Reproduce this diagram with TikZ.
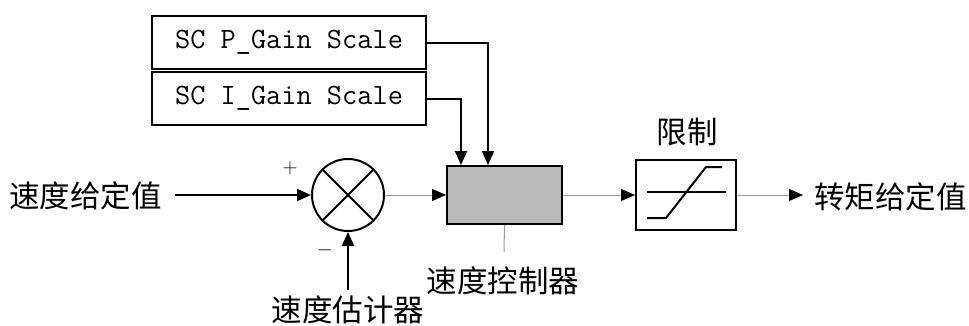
\documentclass[tikz,border=0pt]{standalone}
\usepackage{fontspec}
\newfontfamily\cjk{Noto Sans CJK SC}
\usetikzlibrary{arrows.meta}
\tikzset{
    blk/.style={draw, line width=2pt, inner sep=0pt},
    sig/.style={line width=2pt, -{Triangle[length=14pt,width=12pt]}},
    thin sig/.style={line width=1pt, draw=black!40, -{Triangle[length=14pt,width=12pt,color=black,fill=black]}},
    lbl/.style={font=\cjk\fontsize{30.5}{32}\selectfont, inner sep=0pt},
}
\begin{document}
\begin{tikzpicture}[x=1pt, y=1pt]
                \useasboundingbox (0,0) rectangle (969,325);
                \node[blk, minimum width=274pt, minimum height=53pt, font=\ttfamily\fontsize{29.5}{31}\selectfont] (pgain) at (289,282.5) {SC P\_Gain Scale};
                \node[blk, minimum width=274pt, minimum height=53pt, font=\ttfamily\fontsize{29.5}{31}\selectfont] (igain) at (289,226.5) {SC I\_Gain Scale};
                \node[blk, circle, minimum size=72pt] (sum) at (348,130) {};
                \node[blk, fill=black!27, minimum width=115pt, minimum height=58pt] (ctrl) at (504.5,130) {};
                \node[blk, minimum width=100pt, minimum height=70pt] (lim) at (686,130) {};
                \node[lbl, anchor=east] (ref) at (162,129) {速度给定值};
                \node[lbl] (est) at (348,15) {速度估计器};
                \node[lbl] (ctrllbl) at (503,44) {速度控制器};
                \node[lbl] (limlbl) at (687,193) {限制};
                \node[lbl, anchor=west] (out) at (814,128) {转矩给定值};
                \node[font=\fontsize{20}{20}\selectfont] (plus) at (290,157) {$+$};
                \node[font=\fontsize{20}{20}\selectfont] (minus) at (325,75) {$-$};
                \coordinate (refend) at (175,130);
                \coordinate (estend) at (348,35);
                \coordinate (lblend) at (504,73);
                \coordinate (outend) at (803,130);
                \draw[line width=2pt] (sum.135) -- (sum.-45) (sum.45) -- (sum.-135);
                \draw[sig] (refend) -- (sum.west);
                \draw[sig] (estend) -- (sum.south);
                \draw[sig] (pgain.east) -| ([xshift=42pt]ctrl.north west);
                \draw[sig] (igain.east) -| ([xshift=15pt]ctrl.north west);
                \draw[thin sig] (sum.east) -- (ctrl.west);
                \draw[thin sig] (ctrl.east) -- (lim.west);
                \draw[thin sig] (lim.east) -- (outend);
                \draw[line width=1pt, draw=black!40] (ctrl.south) -- (lblend);
                \draw[line width=2pt] ([xshift=-39pt,yshift=3pt]lim.center) -- ([xshift=40pt,yshift=3pt]lim.center);
                \draw[line width=2pt] ([xshift=-39pt,yshift=-23pt]lim.center) -- ++(19,0) -- ([xshift=20pt,yshift=28pt]lim.center) -- ++(16,0);
\end{tikzpicture}
\end{document}
